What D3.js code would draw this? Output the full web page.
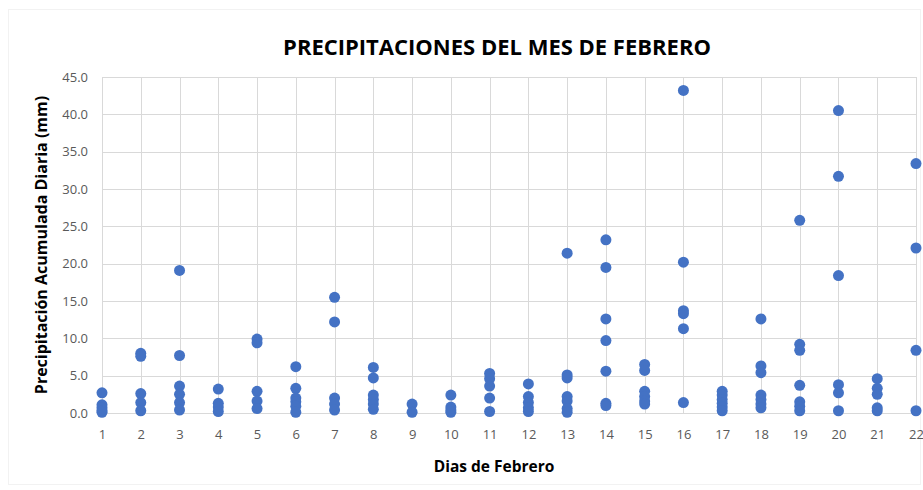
<!DOCTYPE html>
<html>
<head>
<meta charset="utf-8">
<script src="https://cdn.jsdelivr.net/npm/d3@7"></script>
<style>
  body { margin: 0; background: #fff; }
  svg { display: block; font-family: "Open Sans", "Noto Sans", sans-serif; }
</style>
</head>
<body>
<div id="chart"></div>
<script>
// daily rain readings (mm), several stations per day
var dias = d3.range(1, 23)
var lluvia = [
    [2.7, 1.1, 0.7, 0.3, 0.1],
    [8.0, 7.6, 2.6, 1.4, 0.3],
    [19.1, 7.7, 3.6, 2.5, 1.4, 0.4],
    [3.2, 1.3, 0.8, 0.2],
    [9.9, 9.4, 2.9, 1.6, 0.6],
    [6.2, 3.3, 2.0, 1.5, 0.9, 0.1],
    [15.5, 12.2, 2.0, 1.2, 0.4],
    [6.1, 4.7, 2.4, 1.8, 1.2, 0.5],
    [1.2, 0.1],
    [2.4, 0.8, 0.4, 0.1],
    [5.3, 4.6, 3.6, 2.0, 0.2],
    [3.9, 2.2, 1.4, 0.7, 0.2],
    [21.4, 5.1, 4.7, 2.2, 1.6, 0.6, 0.1],
    [23.2, 19.5, 12.6, 9.7, 5.6, 1.3, 1.0],
    [6.5, 5.7, 2.9, 2.2, 1.6, 1.2],
    [43.2, 20.2, 13.7, 13.3, 11.3, 1.4],
    [2.9, 2.4, 1.8, 1.3, 0.8, 0.3],
    [12.6, 6.3, 5.4, 2.4, 1.8, 1.2, 0.7],
    [25.8, 9.2, 8.4, 3.7, 1.5, 0.9, 0.3],
    [40.5, 31.7, 18.4, 3.8, 2.7, 0.3],
    [4.6, 3.3, 2.5, 0.7, 0.3],
    [33.4, 22.1, 8.4, 0.3]
]
var yTicks = d3.range(0, 46, 5)

var titulo = "PRECIPITACIONES DEL MES DE FEBRERO"
var tituloX = "Dias de Febrero"
var tituloY = "Precipitación Acumulada Diaria (mm)"

var width = 923, height = 490
var margin = {top: 77, right: 7, bottom: 77, left: 102}

var puntos = []
dias.forEach(function(d, i) {
    lluvia[i].forEach(function(v) {
        puntos.push({dia: d, valor: v})
    })
})

var svg = d3.select("#chart")
    .append("svg")
    .attr("width", width)
    .attr("height", height)

// faint chart border
svg.append("rect")
    .attr("x", 8.5).attr("y", 9.5)
    .attr("width", 912).attr("height", 475)
    .attr("fill", "none")
    .attr("stroke", "#f2f2f2")

var x = d3.scaleLinear()
    .domain([1, 22])
    .range([margin.left, width - margin.right])

var y = d3.scaleLinear()
    .domain([0, 45])
    .range([height - margin.bottom, margin.top])

var g = svg.append("g")

// grid
g.selectAll(".hgrid")
    .data(yTicks)
    .enter()
    .append("line")
    .attr("class", "hgrid")
    .attr("x1", x(1)).attr("x2", x(22))
    .attr("y1", function(d) { return Math.round(y(d)) + 0.5 })
    .attr("y2", function(d) { return Math.round(y(d)) + 0.5 })
    .attr("stroke", "#d9d9d9")

g.selectAll(".vgrid")
    .data(dias)
    .enter()
    .append("line")
    .attr("class", "vgrid")
    .attr("x1", function(d) { return Math.round(x(d)) + 0.5 })
    .attr("x2", function(d) { return Math.round(x(d)) + 0.5 })
    .attr("y1", y(0)).attr("y2", y(45))
    .attr("stroke", "#d9d9d9")

// axes (labels only, no domain lines)
var yAxis = d3.axisLeft(y)
    .tickValues(yTicks)
    .tickSize(0)
    .tickPadding(14)
    .tickFormat(d3.format(".1f"))

var xAxis = d3.axisBottom(x)
    .tickValues(dias)
    .tickSize(0)
    .tickPadding(17)
    .tickFormat(d3.format("d"))

var gy = svg.append("g")
    .attr("transform", "translate(" + margin.left + ",0)")
    .call(yAxis)
var gx = svg.append("g")
    .attr("transform", "translate(0," + (height - margin.bottom) + ")")
    .call(xAxis)

;[gx, gy].forEach(function(ax) {
    ax.select(".domain").remove()
    ax.selectAll("text")
        .style("font-family", "'Open Sans', sans-serif")
        .style("font-size", "13px")
        .attr("fill", "#595959")
})

// points
svg.selectAll(".punto")
    .data(puntos)
    .enter()
    .append("circle")
    .attr("class", "punto")
    .attr("cx", function(d) { return x(d.dia) })
    .attr("cy", function(d) { return y(d.valor) })
    .attr("r", 5.5)
    .attr("fill", "#4472c4")

// titles
svg.append("text")
    .attr("x", 497).attr("y", 55)
    .attr("text-anchor", "middle")
    .style("font-size", "22px")
    .style("font-weight", "bold")
    .attr("fill", "#000")
    .text(titulo)

svg.append("text")
    .attr("x", 494).attr("y", 472)
    .attr("text-anchor", "middle")
    .style("font-size", "15.5px")
    .style("font-weight", "bold")
    .attr("fill", "#000")
    .text(tituloX)

svg.append("text")
    .attr("transform", "translate(47,245) rotate(-90)")
    .attr("text-anchor", "middle")
    .style("font-size", "16px")
    .style("font-weight", "bold")
    .attr("fill", "#000")
    .text(tituloY)
</script>
</body>
</html>
